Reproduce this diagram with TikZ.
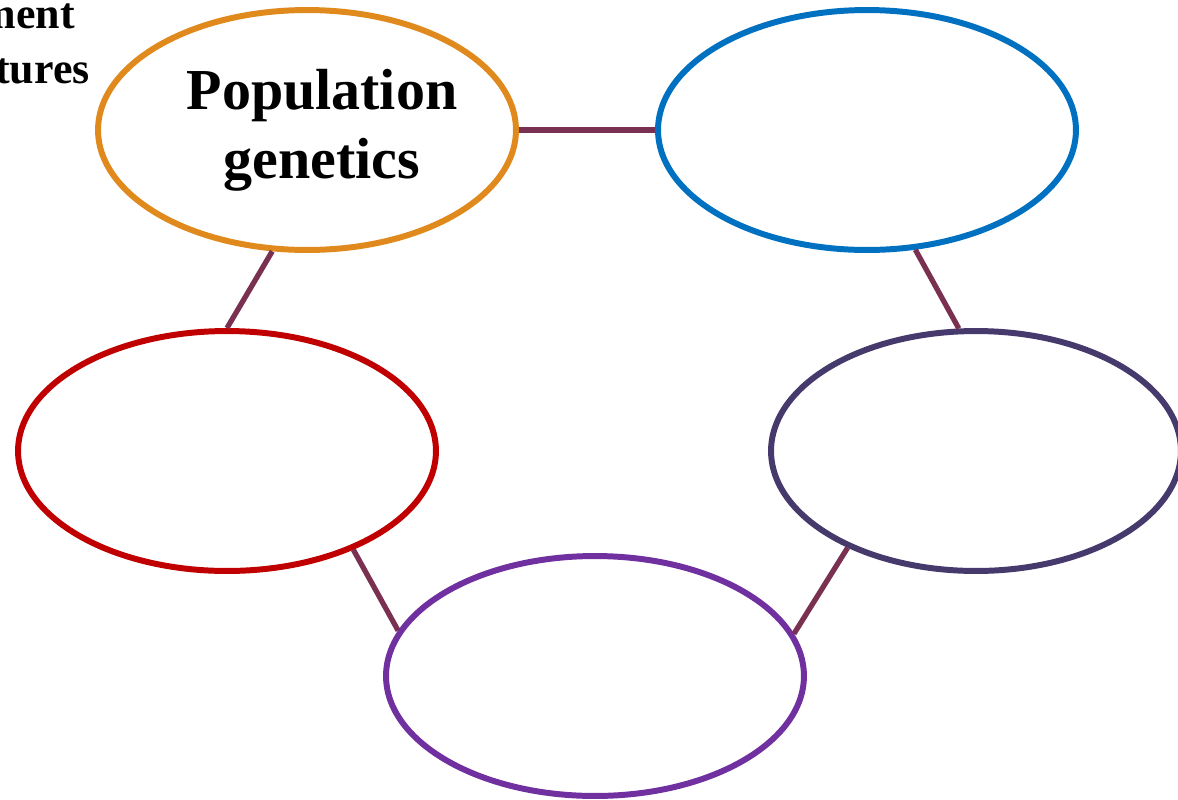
\documentclass[tikz,border=0pt]{standalone}
\usepackage{fontspec}
\setmainfont{Liberation Serif}
\usetikzlibrary{shapes.geometric}
\definecolor{ringorange}{HTML}{E08A1E}
\definecolor{ringblue}{HTML}{0070C0}
\definecolor{ringred}{HTML}{C00000}
\definecolor{ringdusk}{HTML}{463A6C}
\definecolor{ringviolet}{HTML}{7030A0}
\definecolor{linkwine}{HTML}{7A3050}
\tikzset{
    ring/.style={ellipse, draw=#1, line width=3.4pt, minimum width=8.36cm, minimum height=4.8cm, inner sep=0pt},
    link/.style={draw=linkwine, line width=3pt}
}
\begin{document}
\begin{tikzpicture}[x=0.02cm, y=-0.02cm]
    \useasboundingbox (0,0) rectangle (1178,799);
    
    \node[ring=ringorange] (pop) at (307,130) {};
    \node[ring=ringblue] (nb) at (867,130) {};
    \node[ring=ringred] (wr) at (227,451) {};
    \node[ring=ringdusk, minimum width=8.2cm] (eb) at (976,451) {};
    \node[ring=ringviolet] (sb) at (595,676) {};
    
    \node[font=\fontsize{33}{39.5}\selectfont\bfseries, align=center] (poptext) at (322,130) {Population\\genetics};
    
    \node[font=\fontsize{25}{31}\selectfont\bfseries, anchor=base east, inner sep=0pt] (cuttop) at (75,28) {ment};
    \node[font=\fontsize{25}{31}\selectfont\bfseries, anchor=base east, inner sep=0pt] (cutlow) at (90,83) {tures};
    
    \draw[link] (pop.east) -- (nb.west);
    \draw[link] (pop.-106) -- (wr.90);
    \draw[link] (nb.-68) -- (eb.98);
    \draw[link] (wr.-38) -- (sb.167);
    \draw[link] (eb.-143) -- (sb.12);
    
\end{tikzpicture}
\end{document}
